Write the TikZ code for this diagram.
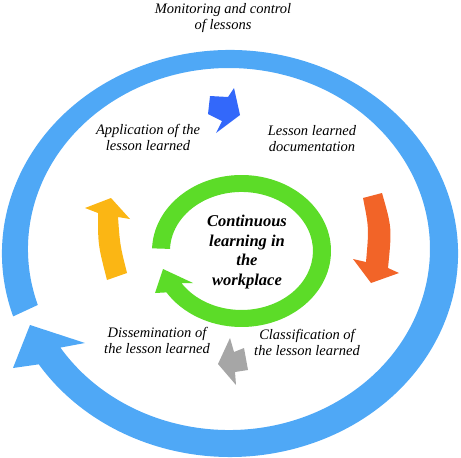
\documentclass[tikz,border=0pt]{standalone}
\usepackage{fontspec}
\setmainfont{Liberation Serif}
\usepackage{tikz}
\usetikzlibrary{positioning}
\definecolor{ringblue}{RGB}{79,168,246}
\definecolor{loopgreen}{RGB}{92,220,40}
\definecolor{stepblue}{RGB}{51,104,250}
\definecolor{steporange}{RGB}{242,100,40}
\definecolor{stepyellow}{RGB}{251,182,20}
\definecolor{stepgrey}{RGB}{166,166,166}

\begin{document}
\begin{tikzpicture}[x=1pt, y=1pt, yscale=-1,
  every node/.style={font=\fontsize{14.5}{16}\selectfont\itshape, align=center, inner sep=0pt}]
  \useasboundingbox (0,0) rectangle (461,458);

  % ============ OUTER RING: MONITORING ============
  % Outer edge: centre (230,253.5), radii 228 x 203.5
  % Inner edge: centre (229,249),   radii 201 x 181
  % Tail on the left at 162, head ends at 147 (one turn on)
  \fill[ringblue] (230,253.5) ++(162:228 and 203.5)
    arc[start angle=162, end angle=507, x radius=228, y radius=203.5]
    -- (13,368) -- (30,325) -- (85,343) -- (60.4,347.6)
    arc[start angle=507, end angle=162, x radius=201, y radius=181]
    -- cycle;
  \node (monitor) at (223,18) {Monitoring and control\\of lessons};

  % ============ INNER RING: CONTINUOUS LEARNING ============
  % Outer edge radii 89.5 x 76, inner edge radii 71.5 x 59, centre (241.5,251)
  \fill[loopgreen] (241.5,251) ++(182:89.5 and 76)
    arc[start angle=182, end angle=507, x radius=89.5, y radius=76]
    -- (155,293) -- (163,269) -- (193,283) -- (181.5,283.1)
    arc[start angle=507, end angle=182, x radius=71.5, y radius=59]
    -- cycle;
  \node[font=\fontsize{16.5}{19.5}\selectfont\bfseries\itshape] (core) at (247,252)
    {Continuous\\learning in\\the\\workplace};

  % ============ STEP ARROWS ============
  % documentation (blue, top)
  \fill[stepblue] (210,96) -- (228,97) -- (234,88) -- (240,115) -- (216,133)
    -- (222,121) -- (208,114) -- cycle;
  % classification (orange, right)
  \fill[steporange] (363,198) .. controls (369,228) .. (366,262) -- (353,259)
    -- (371,283) -- (399,273) -- (388,268) .. controls (392,228) .. (382,193) -- cycle;
  % dissemination (grey, bottom)
  \fill[stepgrey] (230,338) -- (218,364) -- (236,385) -- (235,372) -- (248,370)
    -- (244,348) -- (234,352) -- cycle;
  % application (yellow, left)
  \fill[stepyellow] (111,198) -- (130,219) -- (118,217) .. controls (120,245) .. (127,273)
    -- (107,280) .. controls (98,245) .. (98,213) -- (85,208) -- cycle;

  % ============ STEP LABELS ============
  \node (apply)    at (148,137) {Application of the\\lesson learned};
  \node (document) at (312,139) {Lesson learned\\documentation};
  \node (dissem)   at (157,340) {Dissemination of\\the lesson learned};
  \node (classify) at (307,342) {Classification of\\the lesson learned};
\end{tikzpicture}
\end{document}
